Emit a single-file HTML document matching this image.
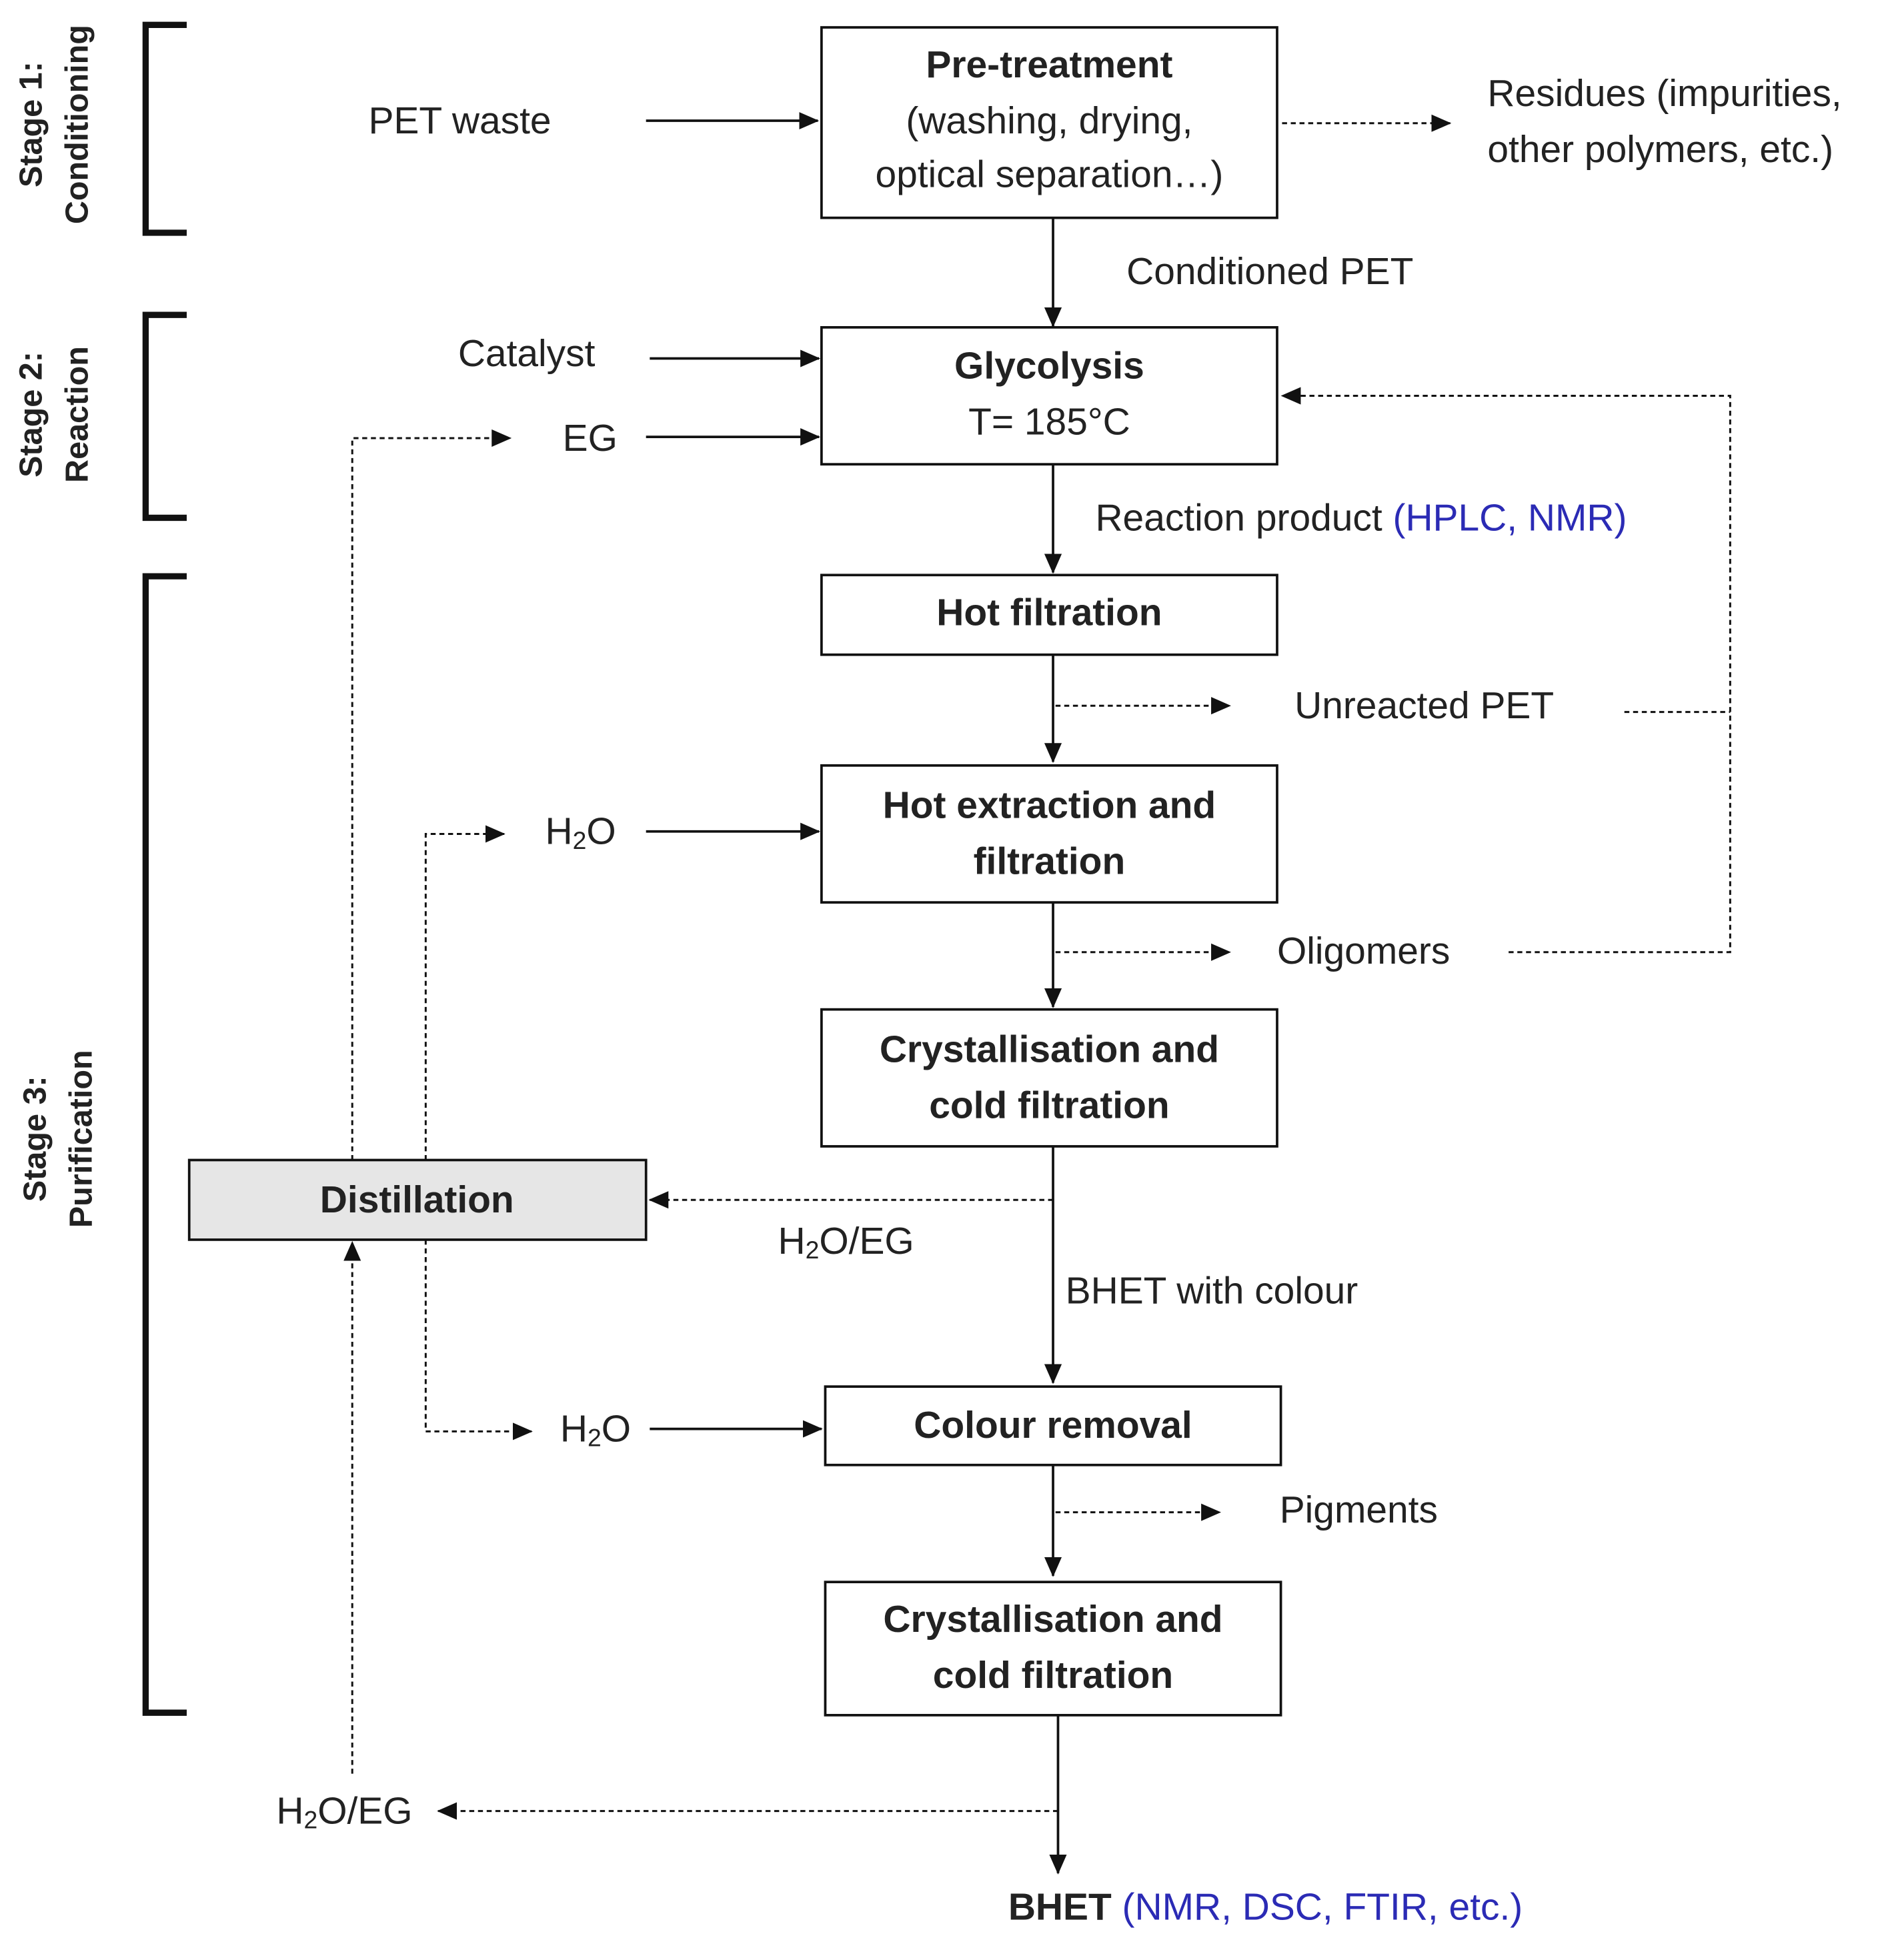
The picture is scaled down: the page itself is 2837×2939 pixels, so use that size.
<!DOCTYPE html>
<html><head><meta charset="utf-8"><style>
html,body{margin:0;padding:0;background:#fff;}
svg{display:block;}
text{font-family:"Liberation Sans",sans-serif;font-size:30.5px;fill:#222;dominant-baseline:central;}
.b{font-weight:bold;}
.blue{fill:#2b2bb5;}
.box{fill:#fff;stroke:#111;stroke-width:2;}
.ln{stroke:#111;stroke-width:2;fill:none;}
.ds{stroke:#111;stroke-width:1.6;fill:none;stroke-dasharray:4 3;}
.br{stroke:#111;stroke-width:5;fill:none;}
.sub{font-size:20px;}
</style></head><body>
<svg width="2837" height="2939" viewBox="0 0 1520 1574.7" preserveAspectRatio="none" xmlns="http://www.w3.org/2000/svg">
<defs>
<marker id="a2" markerWidth="16" markerHeight="14" refX="15" refY="7" orient="auto" markerUnits="userSpaceOnUse"><path d="M0,0 L16,7 L0,14 z" fill="#111"/></marker>
</defs>
<path class="br" d="M150,20 H117 V187 H150"/>
<path class="br" d="M150,253 H117 V416 H150"/>
<path class="br" d="M150,463 H117 V1376 H150"/>
<g transform="translate(25,100) rotate(-90)"><text class="b" text-anchor="middle" style="font-size:26px">Stage 1:</text></g>
<g transform="translate(62,100) rotate(-90)"><text class="b" text-anchor="middle" style="font-size:26px">Conditioning</text></g>
<g transform="translate(25,333) rotate(-90)"><text class="b" text-anchor="middle" style="font-size:26px">Stage 2:</text></g>
<g transform="translate(62,333) rotate(-90)"><text class="b" text-anchor="middle" style="font-size:26px">Reaction</text></g>
<g transform="translate(28,915) rotate(-90)"><text class="b" text-anchor="middle" style="font-size:26px">Stage 3:</text></g>
<g transform="translate(65,915) rotate(-90)"><text class="b" text-anchor="middle" style="font-size:26px">Purification</text></g>

<rect class="box" x="660" y="22" width="366" height="153"/>
<text class="b" x="843" y="52" text-anchor="middle">Pre-treatment</text>
<text x="843" y="97" text-anchor="middle">(washing, drying,</text>
<text x="843" y="140" text-anchor="middle">optical separation…)</text>

<rect class="box" x="660" y="263" width="366" height="110"/>
<text class="b" x="843" y="294" text-anchor="middle">Glycolysis</text>
<text x="843" y="339" text-anchor="middle">T= 185°C</text>

<rect class="box" x="660" y="462" width="366" height="64"/>
<text class="b" x="843" y="492" text-anchor="middle">Hot filtration</text>

<rect class="box" x="660" y="615" width="366" height="110"/>
<text class="b" x="843" y="647" text-anchor="middle">Hot extraction and</text>
<text class="b" x="843" y="692" text-anchor="middle">filtration</text>

<rect class="box" x="660" y="811" width="366" height="110"/>
<text class="b" x="843" y="843" text-anchor="middle">Crystallisation and</text>
<text class="b" x="843" y="888" text-anchor="middle">cold filtration</text>

<rect class="box" x="152" y="932" width="367" height="64" style="fill:#e6e6e6"/>
<text class="b" x="335" y="964" text-anchor="middle">Distillation</text>

<rect class="box" x="663" y="1114" width="366" height="63"/>
<text class="b" x="846" y="1145" text-anchor="middle">Colour removal</text>

<rect class="box" x="663" y="1271" width="366" height="107"/>
<text class="b" x="846" y="1301" text-anchor="middle">Crystallisation and</text>
<text class="b" x="846" y="1346" text-anchor="middle">cold filtration</text>

<text x="296" y="97">PET waste</text>
<line class="ln" x1="519" y1="97" x2="657" y2="97" marker-end="url(#a2)"/>
<line class="ds" x1="1030" y1="99" x2="1165" y2="99" marker-end="url(#a2)"/>
<text x="1195" y="75">Residues (impurities,</text>
<text x="1195" y="120">other polymers, etc.)</text>
<line class="ln" x1="846" y1="175" x2="846" y2="262" marker-end="url(#a2)"/>
<text x="905" y="218">Conditioned PET</text>

<text x="368" y="284">Catalyst</text>
<line class="ln" x1="522" y1="288" x2="658" y2="288" marker-end="url(#a2)"/>
<text x="452" y="352">EG</text>
<line class="ln" x1="519" y1="351" x2="658" y2="351" marker-end="url(#a2)"/>
<path class="ds" d="M283,932 V352 H410" marker-end="url(#a2)"/>
<line class="ln" x1="846" y1="373" x2="846" y2="460" marker-end="url(#a2)"/>
<text x="880" y="416">Reaction product <tspan class="blue">(HPLC, NMR)</tspan></text>

<path class="ds" d="M1212,765 H1390 V318 H1030" marker-end="url(#a2)"/>
<path class="ds" d="M1305,572 H1390"/>

<line class="ln" x1="846" y1="526" x2="846" y2="612" marker-end="url(#a2)"/>
<line class="ds" x1="848" y1="567" x2="988" y2="567" marker-end="url(#a2)"/>
<text x="1040" y="567">Unreacted PET</text>

<text x="438" y="668">H<tspan class="sub" dy="7">2</tspan><tspan dy="-7">O</tspan></text>
<line class="ln" x1="519" y1="668" x2="658" y2="668" marker-end="url(#a2)"/>
<path class="ds" d="M342,932 V670 H405" marker-end="url(#a2)"/>

<line class="ln" x1="846" y1="725" x2="846" y2="809" marker-end="url(#a2)"/>
<line class="ds" x1="848" y1="765" x2="988" y2="765" marker-end="url(#a2)"/>
<text x="1026" y="764">Oligomers</text>

<line class="ln" x1="846" y1="921" x2="846" y2="1111" marker-end="url(#a2)"/>
<line class="ds" x1="846" y1="964" x2="522" y2="964" marker-end="url(#a2)"/>
<text x="625" y="997">H<tspan class="sub" dy="7">2</tspan><tspan dy="-7">O/EG</tspan></text>
<text x="856" y="1037">BHET with colour</text>

<path class="ds" d="M342,996 V1150 H427" marker-end="url(#a2)"/>
<text x="450" y="1148">H<tspan class="sub" dy="7">2</tspan><tspan dy="-7">O</tspan></text>
<line class="ln" x1="522" y1="1148" x2="660" y2="1148" marker-end="url(#a2)"/>

<line class="ln" x1="846" y1="1177" x2="846" y2="1266" marker-end="url(#a2)"/>
<line class="ds" x1="848" y1="1215" x2="980" y2="1215" marker-end="url(#a2)"/>
<text x="1028" y="1213">Pigments</text>

<line class="ln" x1="850" y1="1378" x2="850" y2="1505" marker-end="url(#a2)"/>
<line class="ds" x1="850" y1="1455" x2="352" y2="1455" marker-end="url(#a2)"/>
<text x="222" y="1455">H<tspan class="sub" dy="7">2</tspan><tspan dy="-7">O/EG</tspan></text>
<line class="ds" x1="283" y1="1425" x2="283" y2="998" marker-end="url(#a2)"/>

<text x="810" y="1532"><tspan class="b">BHET</tspan> <tspan class="blue">(NMR, DSC, FTIR, etc.)</tspan></text>
</svg>
</body></html>
